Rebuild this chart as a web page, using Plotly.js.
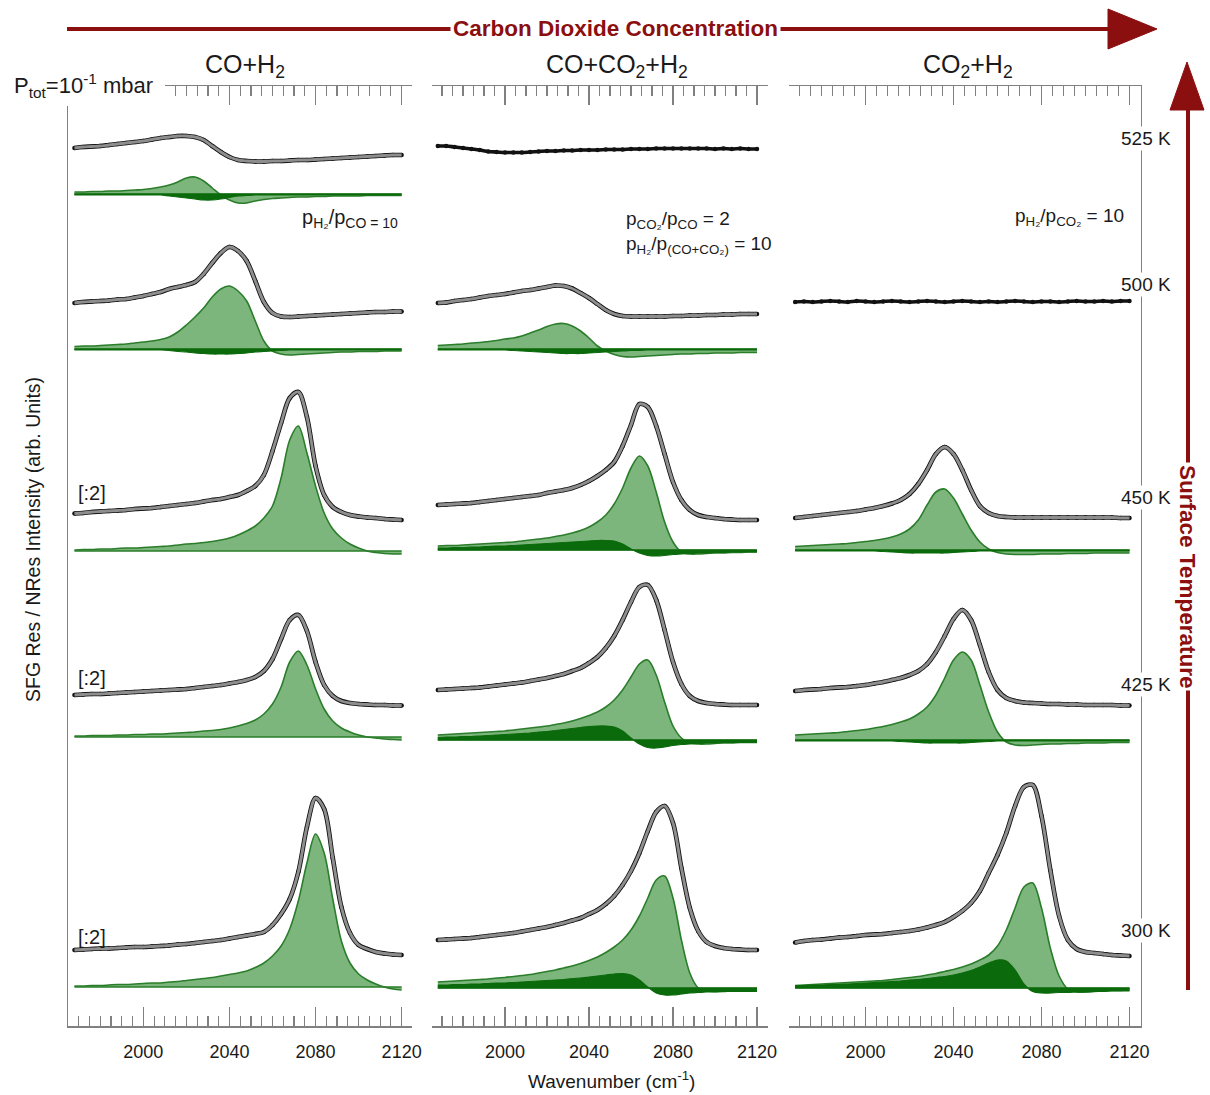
<!DOCTYPE html>
<html><head><meta charset="utf-8">
<script src="https://cdn.plot.ly/plotly-3.0.1.min.js"></script>
<style>html,body{margin:0;padding:0;background:#fff}#chart{width:1210px;height:1095px}</style>
</head><body><div id="chart"></div><script>
// ---------------- DATA (arb. units above each spectrum's zero line) ----------------
const wavenumber = [1968,1972,1976,1980,1984,1988,1992,1996,2000,2004,
  2008,2012,2016,2020,2024,2028,2032,2036,2040,2044,
  2048,2052,2056,2060,2064,2068,2072,2076,2080,2084,
  2088,2092,2096,2100,2104,2108,2112,2116,2120];
const panels = ['CO+H<sub>2</sub>', 'CO+CO<sub>2</sub>+H<sub>2</sub>', 'CO<sub>2</sub>+H<sub>2</sub>'];
const temperatures = ['525 K', '500 K', '450 K', '425 K', '300 K'];
const scaleLabel = '[:2]';
// stacking zero levels of each row (arb. units), per panel
const zeroCOH2 = [832, 677, 475, 289, 39];
const zeroMix  = [832, 677, 476, 286, 38];
const zeroCO2H2 = [null, 677, 476, 286, 38];

// ---- CO + H2 ----
const coh2_525_signal = [46,47,47.5,48,49,50,51,52,53,54.5, 56,57,58,58,57,54,48,42,37,34, 33,32.5,32.5,33,33,33.5,34,34,34.5,35, 35.5,36,36.5,37,37.5,38,38.5,39,39];
const coh2_525_peak = [2,2,2.5,2.5,3,3,3.5,4,4.5,5.5, 7,9,12,16,17,13,6,-1,-6,-9, -9,-7,-5.5,-4.5,-4,-3.5,-3,-3,-2.5,-2.5, -2,-2,-2,-2,-1.5,-1.5,-1.5,-1.5,-1.5];
const coh2_525_broad = [-1,-1,-1,-1,-1,-1,-1,-1,-1,-1, -1,-2,-3,-4,-5,-6,-6,-5,-3.5,-2, -1.5,-1,-1,-1,-1,-1,-1,-1,-1,-1, -1,-1,-1,-1,-1,-1,-1,-1,-1];
const coh2_500_signal = [46,47,47.5,48,48.5,49.5,50,51.5,53,55, 57,60,62,64,67,75,86,96,102,98, 88,68,47,36,32.5,32,32.5,33,33.5,34, 34.5,35,35.5,36,36.5,37,37,37.5,37.5];
const coh2_500_peak = [2.5,3,3,3.5,4,4.5,5,6,7,8, 9.5,12,17,24,32,41,52,60,63,58, 48,28,8,-2,-5,-6,-5.5,-5,-4.5,-4, -3.5,-3,-3,-2.5,-2.5,-2.5,-2,-2,-2];
const coh2_500_broad = [-1,-1,-1,-1,-1,-1,-1,-1,-1,-1, -1,-1.5,-2.5,-3,-4,-4.5,-5,-5,-5,-4.5, -4,-3,-2.5,-2,-1.5,-1,-1,-1,-1,-1, -1,-1,-1,-1,-1,-1,-1,-1,-1];
const coh2_450_signal = [37.5,38,39,39.5,40,40.5,41,42,42.5,43, 44,45,46,47,48,49.5,51,52,54,56, 60,65,76,100,128,153,159,134,85,56, 44,39,36,34.5,33.5,33,32,31.5,31];
const coh2_450_peak = [1,1.5,1.5,2,2,2.5,3,3,3.5,4, 4.5,5,6,7,7.5,8.5,9.5,11,13,16, 20,25,33,45,73,111,125,98,65,38, 22,13,7,3,0,-1.5,-2.5,-3,-3];
const coh2_425_signal = [42,42.5,43,43,43.5,44,44.5,45,45.5,46, 46.5,47,47.5,48,49,50,51,52,53.5,55, 57,60,66,78,98,117,122,106,75,52, 41,36,34,33,32.5,32,32,31.5,31.5];
const coh2_425_peak = [1,1,1.5,1.5,1.5,2,2,2.5,2.5,3, 3,3.5,4,4.5,5,6,6.5,7.5,9,11, 13.5,17,23,33,50,75,86,72,48,28, 16,9,5,2,0,-1,-2,-2.5,-3];
const coh2_300_signal = [37,37.5,38,38.5,38.5,39,39.5,40,40,40.5, 41,41.5,42.5,43,44,45,46,47,48.5,50, 51.5,53,55,62,73,88,115,160,189,178, 129,80,54,42,38,35,33.5,32.5,32];
const coh2_300_peak = [1,1,1.5,1.5,2,2.5,2.5,3,3.5,4, 4,5,5.5,6.5,7.5,8.5,9.5,11,12.5,14, 16,19.5,24,31,41,58,86,124,153,134, 88,46,24,13,7,3,0,-2,-3];

// ---- CO + CO2 + H2 ----
const mix_525_signal = [48,48,47,46,45,44,42.5,42,41.5,41.5, 41.5,42,42.5,43,43,43.5,43.5,44,44,44, 44.5,44.5,44.5,45,45,45,45.5,45.5,45.5,45.5, 45.5,45.5,45.5,45,45.5,45,45.5,45,45];
const mix_500_signal = [46,46.5,48,49,50,51.5,53,54,55,56.5, 58,59,60.5,62,63.5,63,60.5,56,51,45, 39,35,33,32.5,32.5,32.5,32.5,32.5,33,33, 33.5,33.5,34,34,34.5,34.5,35,35,35];
const mix_500_peak = [3.5,4,4.5,5,6,6.5,7.5,8.5,10,11, 13,16,19,22.5,25,25.5,23,18,11,3, -2,-5.5,-7.5,-8,-7.5,-7,-6.5,-6,-5.5,-5, -5,-4.5,-4.5,-4,-4,-4,-3.5,-3.5,-3.5];
const mix_500_broad = [-1,-1,-1,-1,-1,-1,-1,-1,-1,-1.5, -2,-2.5,-3,-3.5,-4,-4.5,-4.5,-4.5,-4,-3.5, -3,-2.5,-2,-1.5,-1.5,-1,-1,-1,-1,-1, -1,-1,-1,-1,-1,-1,-1,-1,-1];
const mix_450_signal = [45,45.5,46,46.5,47,48,49,50,51,52, 53,54,55,57,58.5,60,62,65,69,74, 80,88,104,125,146,143,124,96,68,50, 40,35,33,32,31,30.5,30,30,30];
const mix_450_peak = [4,4.5,4.5,5,5.5,6,6.5,7,7.5,8, 9,10,11,12,13.5,15,17,19.5,23,28, 35,46,62,82,94,84,58,28,8,-2, -4,-4,-3.5,-3,-3,-2.5,-2.5,-2,-2];
const mix_450_broad = [2,2,2.5,2.5,3,3,3.5,4,4,4.5, 5,5.5,6,6.5,7,7.5,8,8.5,9,9.5, 9.5,9,6,1,-3,-5.5,-6,-5.5,-4.5,-4, -3.5,-3,-3,-2.5,-2.5,-2,-2,-2,-2];
const mix_425_signal = [50,50.5,51,51.5,52,52.5,53.5,54.5,55.5,56.5, 57.5,59,60.5,62,64,66,69,72,77,83, 92,104,120,138,153,155,140,110,78,56, 44,39,37,36,35.5,35,35,35,35];
const mix_425_peak = [5,5.5,6,6.5,7,7.5,8,8.5,9,10, 11,12,13,14,15.5,17,19,21.5,24.5,28, 33,40,50,63,76,80,65,38,14,2, -3,-4,-4,-3.5,-3,-3,-2.5,-2.5,-2.5];
const mix_425_broad = [2.5,3,3,3.5,3.5,4,4.5,5,5.5,6, 6.5,7,8,8.5,9.5,10.5,11.5,12.5,13.5,14, 14,13,9,2,-4,-7.5,-8,-7,-5.5,-4.5, -4,-3.5,-3,-3,-2.5,-2.5,-2.5,-2.5,-2.5];
const mix_300_signal = [48,48.5,49,49.5,50,51,52,53,54,55, 56.5,58,59.5,61,63,65,67.5,70,74,78, 84,92,103,117,135,157,176,182,165,120, 80,57,46,42,40,39,38.5,38,38];
const mix_300_peak = [6,6.5,7,7.5,8,8.5,9,10,10.5,11.5, 12.5,13.5,15,16.5,18,20,22,24.5,27.5,31, 35.5,41,48,58,72,90,108,112,90,48, 15,0,-3,-3.5,-3.5,-3,-3,-3,-3];
const mix_300_broad = [3,3,3.5,3.5,4,4,4.5,5,5,5.5, 6,6.5,7,7.5,8,8.5,9.5,10,11,12, 13,14,14.5,13,8,1,-5,-7,-7,-6, -5,-4.5,-4,-4,-3.5,-3.5,-3.5,-3.5,-3.5];

// ---- CO2 + H2 ----
const co2h2_500_signal = [47,47.5,47,47.5,48,47.5,47,48,47.5,47, 47.5,48,47.5,47,47.5,48,47.5,47,47.5,48, 47.5,47,47.5,47,47.5,48,47.5,47,47.5,47.5, 47,47.5,48,47.5,47.5,48,47.5,48,48];
const co2h2_450_signal = [32,33,34,35,36,37,38,39,40.5,42, 44,46.5,50,56,66,80,96,103,96,80, 60,44,37,34,33,32.5,32.5,32.5,32.5,32.5, 32.5,32.5,32.5,32.5,32.5,32.5,32.5,32,32];
const co2h2_450_peak = [3.5,4,4.5,5,5.5,6,6.5,7.5,8.5,9.5, 11,13,16,21,30,45,58,61,52,36, 20,8,1,-2.5,-4,-4.5,-4.5,-4.5,-4,-4, -4,-3.5,-3.5,-3.5,-3,-3,-3,-3,-3];
const co2h2_450_broad = [-1,-1,-1,-1,-1,-1,-1,-1,-1,-1, -1.5,-2,-2.5,-3,-3,-3,-3,-3,-2.5,-2, -1.5,-1,-1,-1,-1,-1,-1,-1,-1,-1, -1,-1,-1,-1,-1,-1,-1,-1,-1];
const co2h2_425_signal = [49,50,50.5,51,52,52.5,53,54,55,56.5, 58,60,62,65,69,76,88,104,121,130, 120,95,68,50,42,39,37.5,37,36.5,36, 36,35.5,35.5,35,35,35,35,34.5,34.5];
const co2h2_425_peak = [5,5.5,6,6.5,7,7.5,8.5,9.5,10.5,12, 13.5,15.5,18,21,26,33,45,62,80,88, 80,55,28,8,-2,-5,-5.5,-5,-4.5,-4, -4,-3.5,-3.5,-3,-3,-3,-2.5,-2.5,-2.5];
const co2h2_425_broad = [-1,-1,-1,-1,-1,-1,-1,-1,-1,-1, -1,-1,-1.5,-2,-2.5,-3,-3,-3,-3,-3, -2.5,-2,-1.5,-1,-1,-1,-1,-1,-1,-1, -1,-1,-1,-1,-1,-1,-1,-1,-1];
const co2h2_300_signal = [45.5,47,48,48.5,49.5,50.5,51,52,53,53.5, 54,55,56,57,58.5,60.5,63,66,71,77, 85,97,115,133,155,182,201,203,172,118, 72,48,39,36,35,34,33,32.5,32];
const co2h2_300_peak = [2.5,3,3.5,4,4.5,5,5.5,6,6.5,7, 7.5,8.5,9.5,10.5,11.5,13,14.5,16.5,18.5,21, 24,28,33,42,58,80,101,105,80,40, 12,-1,-4,-4,-3.5,-3,-2.5,-2.5,-2];
const co2h2_300_broad = [2.5,2.5,3,3,3.5,3.5,4,4.5,5,5.5, 6,6.5,7,8,8.5,9.5,10.5,11.5,13,15, 17.5,21,25,28,27,18,4,-3.5,-5,-5, -4.5,-4.5,-4,-4,-3.5,-3.5,-3,-3,-3];

// ---------------- BUILD ----------------
const W = 1210, H = 1095;
const PX = x => x / W, PY = y => 1 - y / H;
const FONT = 'Liberation Sans, Arial, Helvetica, sans-serif';
const RED = '#8b0f0f', AX = '#808080';
const GREEN_LINE = '#2a7d2a', LIGHT_FILL = 'rgba(118,178,118,0.95)', DARK_FILL = '#0b6a0b';

const spectra = [
  {xa:'x',  ya:'y',  zero:zeroCOH2[0], signal:coh2_525_signal, peak:coh2_525_peak, broad:coh2_525_broad},
  {xa:'x',  ya:'y',  zero:zeroCOH2[1], signal:coh2_500_signal, peak:coh2_500_peak, broad:coh2_500_broad},
  {xa:'x',  ya:'y',  zero:zeroCOH2[2], signal:coh2_450_signal, peak:coh2_450_peak},
  {xa:'x',  ya:'y',  zero:zeroCOH2[3], signal:coh2_425_signal, peak:coh2_425_peak},
  {xa:'x',  ya:'y',  zero:zeroCOH2[4], signal:coh2_300_signal, peak:coh2_300_peak},
  {xa:'x2', ya:'y',  zero:zeroMix[0], signal:mix_525_signal, raw:true},
  {xa:'x2', ya:'y',  zero:zeroMix[1], signal:mix_500_signal, peak:mix_500_peak, broad:mix_500_broad},
  {xa:'x2', ya:'y',  zero:zeroMix[2], signal:mix_450_signal, peak:mix_450_peak, broad:mix_450_broad},
  {xa:'x2', ya:'y',  zero:zeroMix[3], signal:mix_425_signal, peak:mix_425_peak, broad:mix_425_broad},
  {xa:'x2', ya:'y',  zero:zeroMix[4], signal:mix_300_signal, peak:mix_300_peak, broad:mix_300_broad},
  {xa:'x3', ya:'y2', zero:zeroCO2H2[1], signal:co2h2_500_signal, raw:true},
  {xa:'x3', ya:'y2', zero:zeroCO2H2[2], signal:co2h2_450_signal, peak:co2h2_450_peak, broad:co2h2_450_broad},
  {xa:'x3', ya:'y2', zero:zeroCO2H2[3], signal:co2h2_425_signal, peak:co2h2_425_peak, broad:co2h2_425_broad},
  {xa:'x3', ya:'y2', zero:zeroCO2H2[4], signal:co2h2_300_signal, peak:co2h2_300_peak, broad:co2h2_300_broad}
];

const traces = [];
const base = {type:'scatter', hoverinfo:'skip', showlegend:false, cliponaxis:false};
spectra.forEach(s => {
  const zeroLine = wavenumber.map(() => s.zero);
  if (s.peak) {
    traces.push(Object.assign({}, base, {x:wavenumber, y:zeroLine, xaxis:s.xa, yaxis:s.ya, mode:'lines', line:{color:GREEN_LINE, width:1.6}}));
    traces.push(Object.assign({}, base, {x:wavenumber, y:s.peak.map(v => s.zero + v), xaxis:s.xa, yaxis:s.ya, mode:'lines',
      fill:'tonexty', fillcolor:LIGHT_FILL, line:{color:GREEN_LINE, width:1.6, shape:'spline', smoothing:0.9}}));
  }
  if (s.broad) {
    traces.push(Object.assign({}, base, {x:wavenumber, y:zeroLine, xaxis:s.xa, yaxis:s.ya, mode:'lines', line:{color:DARK_FILL, width:1}}));
    traces.push(Object.assign({}, base, {x:wavenumber, y:s.broad.map(v => s.zero + v), xaxis:s.xa, yaxis:s.ya, mode:'lines',
      fill:'tonexty', fillcolor:DARK_FILL, line:{color:DARK_FILL, width:1.2, shape:'spline', smoothing:0.9}}));
  }
  const yv = s.signal.map(v => s.zero + v);
  traces.push(Object.assign({}, base, {x:wavenumber, y:yv, xaxis:s.xa, yaxis:s.ya, mode:'lines+markers',
    line:{color:'#111', width:s.raw ? 3.6 : 4.6, shape:'spline', smoothing:0.9}, marker:{color:'#111', size:4.5}}));
  if (!s.raw) {
    traces.push(Object.assign({}, base, {x:wavenumber, y:yv, xaxis:s.xa, yaxis:s.ya, mode:'lines',
      line:{color:'#8e8e8e', width:2.9, shape:'spline', smoothing:0.9}}));
  }
});

const xCommon = {
  range:[1965, 2125], showline:true, linecolor:AX, linewidth:1.5, mirror:'ticks',
  ticks:'inside', ticklen:19, tickwidth:1.4, tickcolor:AX, tickmode:'linear', tick0:2000, dtick:40,
  minor:{ticks:'inside', ticklen:10, tickwidth:1.2, tickcolor:AX, dtick:5, tick0:2000, showgrid:false},
  tickfont:{family:FONT, size:18, color:'#1a1a1a'}, ticklabelstandoff:9,
  showgrid:false, zeroline:false, fixedrange:true
};
const yDomain = [PY(1026), PY(86)];
const layout = {
  width:W, height:H, margin:{l:0, r:0, t:0, b:0}, paper_bgcolor:'#fff', plot_bgcolor:'rgba(0,0,0,0)',
  showlegend:false, font:{family:FONT, color:'#1a1a1a'},
  xaxis:  Object.assign({}, xCommon, {domain:[PX(68), PX(412.4)], anchor:'y'}),
  xaxis2: Object.assign({}, xCommon, {domain:[PX(431.5), PX(767.5)], anchor:'y'}),
  xaxis3: Object.assign({}, xCommon, {domain:[PX(788.5), PX(1140.5)], anchor:'y2'}),
  yaxis:  {domain:yDomain, range:[0, 940], anchor:'x', showline:true, linecolor:AX, linewidth:1.5, ticks:'', showticklabels:false, showgrid:false, zeroline:false, fixedrange:true},
  yaxis2: {range:[0, 940], overlaying:'y', anchor:'x3', side:'right', showline:true, linecolor:AX, linewidth:1.5, ticks:'', showticklabels:false, showgrid:false, zeroline:false, fixedrange:true},
  shapes:[
    {type:'line', xref:'paper', yref:'paper', x0:PX(67), x1:PX(1112), y0:PY(29), y1:PY(29), line:{color:RED, width:4}},
    {type:'path', xref:'paper', yref:'paper', path:`M ${PX(1108)} ${PY(9)} L ${PX(1157)} ${PY(29)} L ${PX(1108)} ${PY(49)} Z`, fillcolor:RED, line:{color:RED, width:1}},
    {type:'line', xref:'paper', yref:'paper', x0:PX(1188), x1:PX(1188), y0:PY(106), y1:PY(990), line:{color:RED, width:4}},
    {type:'path', xref:'paper', yref:'paper', path:`M ${PX(1170)} ${PY(110)} L ${PX(1187)} ${PY(62)} L ${PX(1204)} ${PY(110)} Z`, fillcolor:RED, line:{color:RED, width:1}},
    {type:'rect', xref:'paper', yref:'paper', layer:'above', x0:0, x1:PX(165), y0:PY(106), y1:PY(66), fillcolor:'#fff', line:{width:0}}
  ],
  annotations:[]
};
const ann = (text, x, y, opt) => layout.annotations.push(Object.assign({
  text, x:PX(x), y:PY(y), xref:'paper', yref:'paper', showarrow:false, xanchor:'center', yanchor:'middle',
  font:{family:FONT, size:18, color:'#1a1a1a'}}, opt || {}));

ann('Carbon Dioxide Concentration', 615, 29, {font:{family:FONT, size:22.5, color:RED, weight:'bold'}, bgcolor:'#fff', borderpad:2});
ann('Surface Temperature', 1188, 576, {textangle:90, font:{family:FONT, size:22.5, color:RED, weight:'bold'}, bgcolor:'#fff', borderpad:2});
ann(panels[0], 245, 66, {font:{family:FONT, size:25, color:'#1a1a1a'}});
ann(panels[1], 617, 66, {font:{family:FONT, size:25, color:'#1a1a1a'}});
ann(panels[2], 968, 66, {font:{family:FONT, size:25, color:'#1a1a1a'}});
ann('P<sub>tot</sub>=10<sup>-1</sup> mbar', 12, 86, {xanchor:'left', font:{family:FONT, size:22, color:'#1a1a1a'}});
const tempY = [139, 284, 497, 684, 930];
temperatures.forEach((t, i) => ann(t, 1146, tempY[i], {bgcolor:'#fff', borderpad:1, font:{family:FONT, size:19, color:'#1a1a1a'}}));
[493, 678, 937].forEach(y => ann(scaleLabel, 92, y, {font:{family:FONT, size:20, color:'#1a1a1a'}}));
ann('p<sub>H₂</sub>/p<sub>CO = 10</sub>', 400, 218, {xanchor:'right', font:{family:FONT, size:20, color:'#1a1a1a'}});
ann('p<sub>CO₂</sub>/p<sub>CO</sub> = 2', 624, 220, {xanchor:'left', font:{family:FONT, size:19, color:'#1a1a1a'}});
ann('p<sub>H₂</sub>/p<sub>(CO+CO₂)</sub> = 10', 624, 245, {xanchor:'left', font:{family:FONT, size:19, color:'#1a1a1a'}});
ann('p<sub>H₂</sub>/p<sub>CO₂</sub> = 10', 1126, 217, {xanchor:'right', font:{family:FONT, size:19, color:'#1a1a1a'}});
ann('SFG Res / NRes Intensity (arb. Units)', 33, 540, {textangle:-90, font:{family:FONT, size:19.5, color:'#1a1a1a'}});
ann('Wavenumber (cm<sup>-1</sup>)', 611, 1080, {font:{family:FONT, size:19, color:'#1a1a1a'}});

Plotly.newPlot('chart', traces, layout, {staticPlot:true, displayModeBar:false});
</script></body></html>
